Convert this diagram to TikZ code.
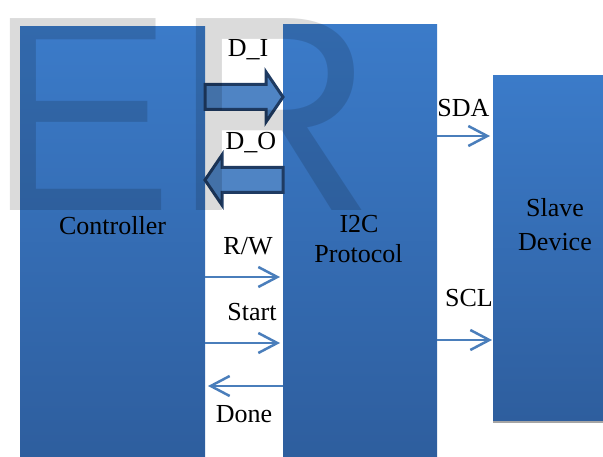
\documentclass[tikz,border=0pt]{standalone}
\usepackage{fontspec}
\setmainfont{Liberation Serif}
\newfontfamily\wmfont{Liberation Sans}
\usetikzlibrary{arrows.meta,calc}
\definecolor{boxtop}{HTML}{3B7BC9}
\definecolor{boxbot}{HTML}{2E5E9E}
\definecolor{linkblue}{HTML}{4A7EBB}
\definecolor{bafill}{HTML}{4F84C4}
\definecolor{baline}{HTML}{1F3B62}
\definecolor{shadowgray}{HTML}{A5A5A5}
\tikzset{
  blockbox/.style={shade, top color=boxtop, bottom color=boxbot, inner sep=0pt, outer sep=0pt},
  lbl/.style={font=\fontsize{26}{32}\selectfont, text=black, inner sep=0pt, anchor=base},
  thinarrow/.style={draw=linkblue, line width=2.5pt, -{Straight Barb[length=19pt, width=20pt, line width=2.5pt]}},
  bigarrow/.style={fill=bafill, draw=baline, line width=3pt, line join=miter},
}
\begin{document}
\begin{tikzpicture}[x=1pt, y=-1pt]
\useasboundingbox (0,0) rectangle (603,457);
% boxes
\node[blockbox, minimum width=185pt, minimum height=430pt] (ctrl) at (112.5,242) {};
\node[blockbox, minimum width=154pt, minimum height=432pt] (i2c) at (360,241) {};
\fill[shadowgray] (493,418) rectangle (603,423);
\node[blockbox, minimum width=110pt, minimum height=344pt] (slave) at (548,248) {};
% box texts
\node[lbl] (tctrl) at (112.5,235) {Controller};
\node[lbl] (ti2c) at (359,233) {I2C};
\node[lbl] (tprot) at (358.5,263) {Protocol};
\node[lbl] (tslave) at (555,217) {Slave};
\node[lbl] (tdev) at (555,251) {Device};
% block arrows
\coordinate (di0) at (ctrl.east |- 0,97);
\coordinate (di1) at (i2c.west |- 0,97);
\draw[bigarrow] ($(di0)+(0,-12.5)$) -- ($(di1)+(-17,-12.5)$) -- ($(di1)+(-17,-25)$) -- (di1)
  -- ($(di1)+(-17,25)$) -- ($(di1)+(-17,12.5)$) -- ($(di0)+(0,12.5)$) -- cycle;
\coordinate (do0) at (i2c.west |- 0,180);
\coordinate (do1) at (ctrl.east |- 0,180);
\draw[bigarrow] ($(do0)+(0,-12.5)$) -- ($(do1)+(17,-12.5)$) -- ($(do1)+(17,-25)$) -- (do1)
  -- ($(do1)+(17,25)$) -- ($(do1)+(17,12.5)$) -- ($(do0)+(0,12.5)$) -- cycle;
% thin arrows
\draw[thinarrow, shorten >=3pt] (ctrl.east |- 0,277) -- (i2c.west |- 0,277);
\draw[thinarrow, shorten >=3pt] (ctrl.east |- 0,343) -- (i2c.west |- 0,343);
\draw[thinarrow, shorten >=3pt] (i2c.west |- 0,386) -- (ctrl.east |- 0,386);
\draw[thinarrow, shorten >=3pt] (i2c.east |- 0,136) -- (slave.west |- 0,136);
\draw[thinarrow, shorten >=1pt] (i2c.east |- 0,340) -- (slave.west |- 0,340);
% labels
\node[lbl] (ldi) at (248,57) {D\_I};
\node[lbl] (ldo) at (251,150) {D\_O};
\node[lbl] (lrw) at (248,255) {R/W};
\node[lbl] (lstart) at (252,321) {Start};
\node[lbl] (ldone) at (244,422) {Done};
\node[lbl] (lsda) at (463.5,117) {SDA};
\node[lbl] (lscl) at (469,307) {SCL};
% watermark
\node[inner sep=0pt, anchor=base west, text=black, opacity=0.14, font=\wmfont\fontsize{279}{300}\selectfont] (wm) at (-13,211) {ER};
\end{tikzpicture}
\end{document}
